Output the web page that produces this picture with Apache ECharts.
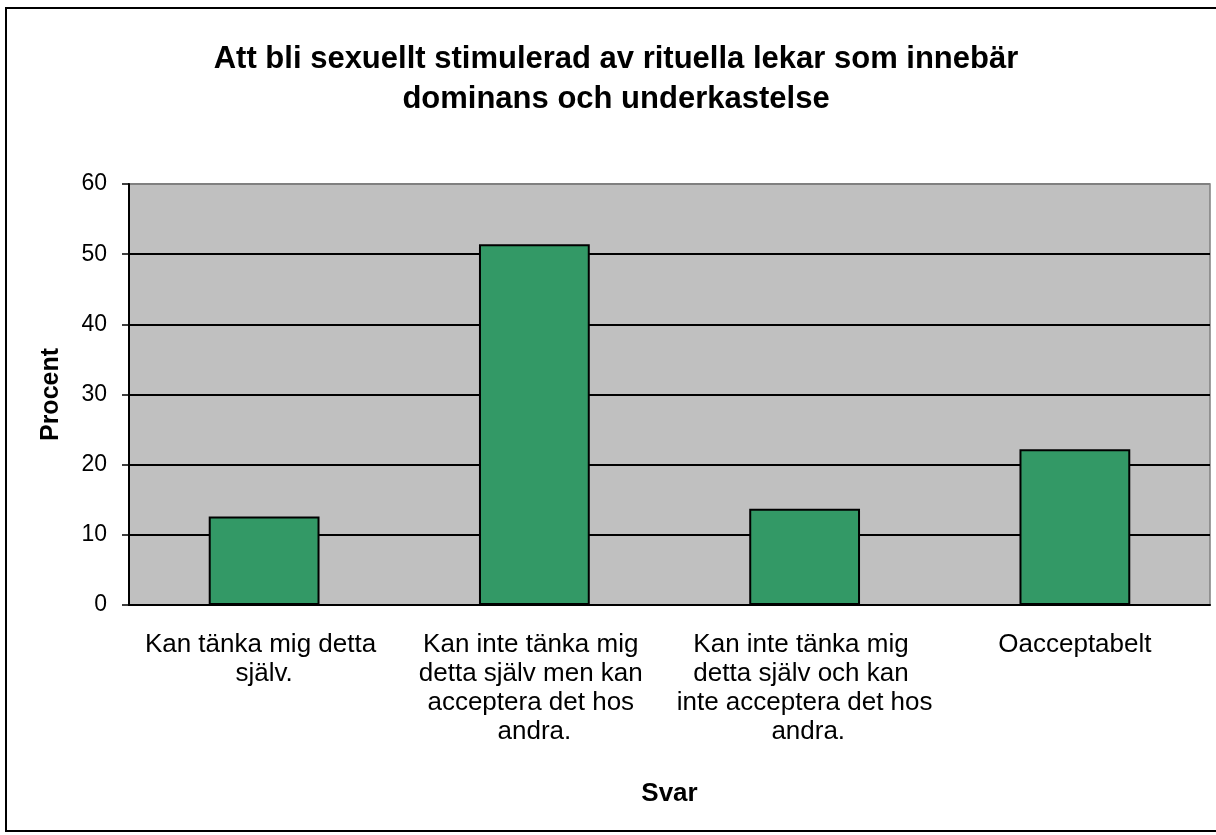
<!DOCTYPE html>
<html>
<head>
<meta charset="utf-8">
<script src="https://cdn.jsdelivr.net/npm/echarts@6/dist/echarts.min.js"></script>
<style>
  html, body { margin: 0; padding: 0; background: #fff; }
  #main { width: 1216px; height: 835px; }
</style>
</head>
<body>
<div id="main"></div>
<script>
const titleText = "Att bli sexuellt stimulerad av rituella lekar som innebär\ndominans och underkastelse";
const categories = [
  "Kan tänka mig detta själv.",
  "Kan inte tänka mig detta själv men kan acceptera det hos andra.",
  "Kan inte tänka mig detta själv och kan inte acceptera det hos andra.",
  "Oacceptabelt"
];
const percent = [12.6, 51.4, 13.7, 22.2];
const yTicks = [0, 10, 20, 30, 40, 50, 60];

const chart = echarts.init(document.getElementById("main"));
const font = "'Liberation Sans', Arial, sans-serif";

chart.setOption({
  animation: false,
  textStyle: { fontFamily: font, color: "#000" },
  title: {
    text: titleText,
    left: 611,
    textAlign: "center",
    top: 34,
    textStyle: { fontSize: 31, fontWeight: "bold", lineHeight: 40, color: "#000", fontFamily: font },
  },
  graphic: [
    {
      type: "rect",
      shape: { x: 6, y: 8, width: 1216, height: 823 },
      style: { fill: null, stroke: "#000", lineWidth: 2 },
      z: 100,
      silent: true,
    },
  ],
  grid: {
    left: 129, right: 6, top: 184, bottom: 230,
    show: true, backgroundColor: "#c0c0c0", borderColor: "#808080", borderWidth: 1.5,
  },
  xAxis: {
    type: "category",
    data: categories,
    name: "Svar",
    nameLocation: "middle",
    nameGap: 176,
    nameTextStyle: { fontSize: 26, fontWeight: "bold", color: "#000", fontFamily: font },
    axisLine: { lineStyle: { color: "#000", width: 2 } },
    axisTick: { length: 7, lineStyle: { color: "#000", width: 1.5 } },
    axisLabel: {
      interval: 0,
      margin: 25,
      fontSize: 26,
      lineHeight: 29,
      color: "#000",
      width: 258,
      overflow: "break",
      fontFamily: font,
    },
  },
  yAxis: {
    type: "value",
    min: 0, max: 60, interval: 10,
    name: "Procent",
    nameLocation: "middle",
    nameGap: 65,
    nameTextStyle: { fontSize: 25, fontWeight: "bold", color: "#000", fontFamily: font },
    axisLine: { show: true, lineStyle: { color: "#000", width: 2 } },
    axisTick: { show: true, length: 7, lineStyle: { color: "#000", width: 1.5 } },
    axisLabel: {
      margin: 22, fontSize: 23, color: "#000", fontFamily: font,
      formatter: v => (yTicks.includes(v) ? String(v) : ""),
    },
    splitLine: {
      show: true,
      lineStyle: { color: ["#000", "#000", "#000", "#000", "#000", "#000", "#808080"], width: 2 },
    },
  },
  series: [
    {
      type: "bar",
      data: percent,
      barWidth: "41%",
      itemStyle: { color: "#339966", borderColor: "#000", borderWidth: 2 },
    },
  ],
});
</script>
</body>
</html>
